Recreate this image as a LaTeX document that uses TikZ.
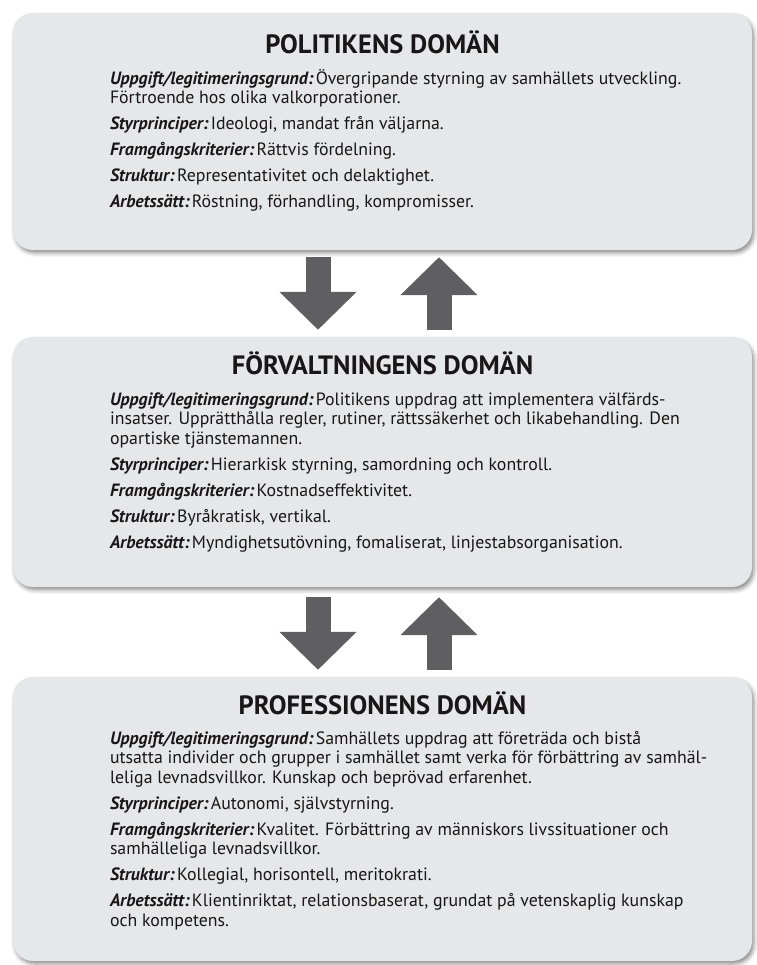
\documentclass[tikz,border=0pt]{standalone}
\usepackage{fontspec}
\setmainfont{PT Sans}
\usetikzlibrary{positioning,arrows.meta,shadows.blur}
\definecolor{box_grey}{RGB}{230,231,232}
\definecolor{arrow_grey}{RGB}{95,95,98}
\definecolor{text_dark}{RGB}{25,22,23}
\newcommand{\rubrik}[1]{\textbf{\textit{#1}}\hspace{0.12em}}
\newcommand{\forstarad}{\rule{0pt}{16pt}}

\begin{document}
\begin{tikzpicture}[x=1pt, y=1pt,
    domainbox/.style={fill=box_grey, rounded corners=20pt, minimum width=739pt, inner sep=0pt,
        blur shadow={shadow xshift=2pt, shadow yshift=-3pt, shadow blur radius=4pt, shadow opacity=45}},
    titel/.style={text=text_dark, font=\fontsize{26.5}{30}\selectfont\bfseries, inner sep=0pt},
    brodtext/.style={text=text_dark, font=\fontsize{17.8}{19.5}\selectfont, align=left, inner sep=0pt},
    blockpil/.style={arrow_grey, line width=25pt, -{Triangle[width=75pt,length=38pt]}}]
    \useasboundingbox (0,0) rectangle (756,965);

    % Boxes
    \node[domainbox, minimum height=237pt] (polbox) at (382.5,833.5) {};
    \node[domainbox, minimum height=250pt] (forvbox) at (382.5,503) {};
    \node[domainbox, minimum height=284pt] (profbox) at (382.5,146) {};

    % Titles
    \node[titel, anchor=base] (poltitel) at ([yshift=-41pt]polbox.north) {POLITIKENS DOMÄN};
    \node[titel, anchor=base] (forvtitel) at ([yshift=-38pt]forvbox.north) {FÖRVALTNINGENS DOMÄN};
    \node[titel, anchor=base] (proftitel) at ([yshift=-38pt]profbox.north) {PROFESSIONENS DOMÄN};

    % Text
    \node[brodtext, anchor=north west] (poltext) at ([xshift=97pt,yshift=-55.5pt]polbox.north west) {
        \forstarad\rubrik{Uppgift/legitimeringsgrund:}Övergripande styrning av samhällets utveckling.\\
        Förtroende hos olika valkorporationer.\\[6.5pt]
        \rubrik{Styrprinciper:}Ideologi, mandat från väljarna.\\[6.5pt]
        \rubrik{Framgångskriterier:}Rättvis fördelning.\\[6.5pt]
        \rubrik{Struktur:}Representativitet och delaktighet.\\[6.5pt]
        \rubrik{Arbetssätt:}Röstning, förhandling, kompromisser.
    };
    \node[brodtext, anchor=north west] (forvtext) at ([xshift=97pt,yshift=-52.5pt]forvbox.north west) {
        \forstarad\rubrik{Uppgift/legitimeringsgrund:}Politikens uppdrag att implementera välfärds-\\
        insatser. Upprätthålla regler, rutiner, rättssäkerhet och likabehandling. Den\\
        opartiske tjänstemannen.\\[6.5pt]
        \rubrik{Styrprinciper:}Hierarkisk styrning, samordning och kontroll.\\[6.5pt]
        \rubrik{Framgångskriterier:}Kostnadseffektivitet.\\[6.5pt]
        \rubrik{Struktur:}Byråkratisk, vertikal.\\[6.5pt]
        \rubrik{Arbetssätt:}Myndighetsutövning, fomaliserat, linjestabsorganisation.
    };
    \node[brodtext, anchor=north west] (proftext) at ([xshift=97pt,yshift=-51.5pt]profbox.north west) {
        \forstarad\rubrik{Uppgift/legitimeringsgrund:}Samhällets uppdrag att företräda och bistå\\
        utsatta individer och grupper i samhället samt verka för förbättring av samhäl-\\
        leliga levnadsvillkor. Kunskap och beprövad erfarenhet.\\[6.5pt]
        \rubrik{Styrprinciper:}Autonomi, självstyrning.\\[6.5pt]
        \rubrik{Framgångskriterier:}Kvalitet. Förbättring av människors livssituationer och\\
        samhälleliga levnadsvillkor.\\[6.5pt]
        \rubrik{Struktur:}Kollegial, horisontell, meritokrati.\\[6.5pt]
        \rubrik{Arbetssätt:}Klientinriktat, relationsbaserat, grundat på vetenskaplig kunskap\\
        och kompetens.
    };

    % Arrows
    \draw[blockpil, shorten <=7pt, shorten >=7pt] ([xshift=-64.5pt]polbox.south) -- ([xshift=-64.5pt]forvbox.north);
    \draw[blockpil, shorten <=7pt, shorten >=7pt] ([xshift=56.5pt]forvbox.north) -- ([xshift=56.5pt]polbox.south);
    \draw[blockpil, shorten <=10pt, shorten >=7pt] ([xshift=-64.5pt]forvbox.south) -- ([xshift=-64.5pt]profbox.north);
    \draw[blockpil, shorten <=7pt, shorten >=10pt] ([xshift=56.5pt]profbox.north) -- ([xshift=56.5pt]forvbox.south);
\end{tikzpicture}
\end{document}
